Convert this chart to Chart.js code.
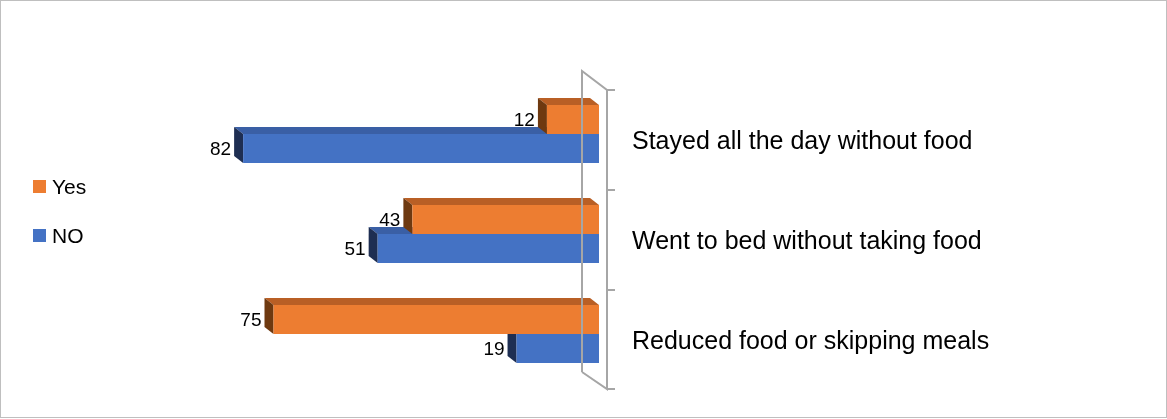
<!DOCTYPE html>
<html lang="en">
<head>
<meta charset="UTF-8">
<title>Food insecurity coping</title>
<script src="https://cdn.jsdelivr.net/npm/chart.js"></script>
<style>
    body { margin: 0; background: #fff; }
    .wrap { position: relative; width: 1167px; height: 419px; }
</style>
</head>
<body>
<div class="wrap"><canvas id="chart"></canvas></div>
<script>
    const categories = ['Stayed all the day without food', 'Went to bed without taking food', 'Reduced food or skipping meals'];
    const yesValues = [12, 43, 75];
    const noValues = [82, 51, 19];

    const FONT = '"Liberation Sans", Arial, sans-serif';
    const DEPTH_X = 9, DEPTH_Y = 7;

    // side + top faces give the bars their 3D look
    const bars3d = {
        id: 'bars3d',
        beforeDatasetsDraw(chart) {
            const ctx = chart.ctx;
            const order = [1, 0];
            order.forEach(di => {
                const ds = chart.data.datasets[di];
                chart.getDatasetMeta(di).data.forEach(bar => {
                    const left = Math.min(bar.x, bar.base), right = Math.max(bar.x, bar.base);
                    const top = bar.y - bar.height / 2, bottom = bar.y + bar.height / 2;
                    ctx.save();
                    ctx.fillStyle = ds.topColor;
                    ctx.beginPath();
                    ctx.moveTo(left, top);
                    ctx.lineTo(left - DEPTH_X, top - DEPTH_Y);
                    ctx.lineTo(right - DEPTH_X, top - DEPTH_Y);
                    ctx.lineTo(right, top);
                    ctx.closePath();
                    ctx.fill();
                    ctx.fillStyle = ds.sideColor;
                    ctx.beginPath();
                    ctx.moveTo(left, top);
                    ctx.lineTo(left - DEPTH_X, top - DEPTH_Y);
                    ctx.lineTo(left - DEPTH_X, bottom - DEPTH_Y);
                    ctx.lineTo(left, bottom);
                    ctx.closePath();
                    ctx.fill();
                    ctx.restore();
                });
            });
        },
        afterDatasetsDraw(chart) {
            const ctx = chart.ctx;
            ctx.save();
            ctx.font = '19px ' + FONT;
            ctx.fillStyle = '#000';
            ctx.textAlign = 'right';
            ctx.textBaseline = 'middle';
            chart.data.datasets.forEach((ds, di) => {
                chart.getDatasetMeta(di).data.forEach((bar, i) => {
                    const left = Math.min(bar.x, bar.base);
                    ctx.fillText(ds.data[i], left - DEPTH_X - 3, bar.y + 1);
                });
            });
            ctx.restore();
        },
        afterDraw(chart) {
            const ctx = chart.ctx;
            const a = chart.chartArea;
            ctx.save();
            // wall / axis frame
            ctx.strokeStyle = '#A6A6A6';
            ctx.lineWidth = 2;
            const back = a.right - 17, front = a.right + 8;
            ctx.beginPath();
            ctx.moveTo(back, a.bottom - 12);
            ctx.lineTo(back, a.top - 13);
            ctx.lineTo(front, a.top + 6);
            ctx.lineTo(front, a.bottom + 5);
            ctx.lineTo(back, a.bottom - 12);
            ctx.stroke();
            const step = (a.bottom - a.top) / categories.length;
            for (let i = 0; i <= categories.length; i++) {
                const y = Math.min(a.top + 6 + i * step, a.bottom + 5);
                ctx.beginPath();
                ctx.moveTo(front, y);
                ctx.lineTo(front + 8, y);
                ctx.stroke();
            }
            // legend
            ctx.font = '21px ' + FONT;
            ctx.textAlign = 'left';
            ctx.textBaseline = 'middle';
            chart.data.datasets.forEach((ds, di) => {
                const cy = 186 + di * 49;
                ctx.fillStyle = ds.backgroundColor;
                ctx.fillRect(33, cy - 6, 13, 13);
                ctx.fillStyle = '#000';
                ctx.fillText(ds.label, 52, cy + 2);
            });
            // outer border
            ctx.strokeStyle = '#BFBFBF';
            ctx.lineWidth = 1;
            ctx.strokeRect(0.5, 0.5, chart.width - 1, chart.height - 2);
            ctx.restore();
        }
    };

    new Chart(document.getElementById('chart'), {
        type: 'bar',
        data: {
            labels: categories,
            datasets: [
                { label: 'Yes', data: yesValues, backgroundColor: '#ED7D31', topColor: '#B95F25', sideColor: '#6E3910' },
                { label: 'NO', data: noValues, backgroundColor: '#4472C4', topColor: '#3A5FA5', sideColor: '#1E2E52' }
            ]
        },
        options: {
            indexAxis: 'y',
            responsive: true,
            maintainAspectRatio: false,
            animation: false,
            layout: { padding: { top: 84, bottom: 35, left: 165, right: 0 } },
            datasets: { bar: { categoryPercentage: 0.58, barPercentage: 1 } },
            plugins: { legend: { display: false }, tooltip: { enabled: false } },
            scales: {
                x: { reverse: true, min: 0, max: 100, display: false },
                y: {
                    position: 'right',
                    grid: { display: false, drawTicks: false },
                    border: { display: false },
                    ticks: { padding: 33, labelOffset: 8, color: '#000', font: { family: FONT, size: 25 } },
                    afterFit(scale) {
                        scale.width = 1167 - 599;
                        scale.paddingTop = 0;
                        scale.paddingBottom = 0;
                    }
                }
            }
        },
        plugins: [bars3d]
    });
</script>
</body>
</html>
